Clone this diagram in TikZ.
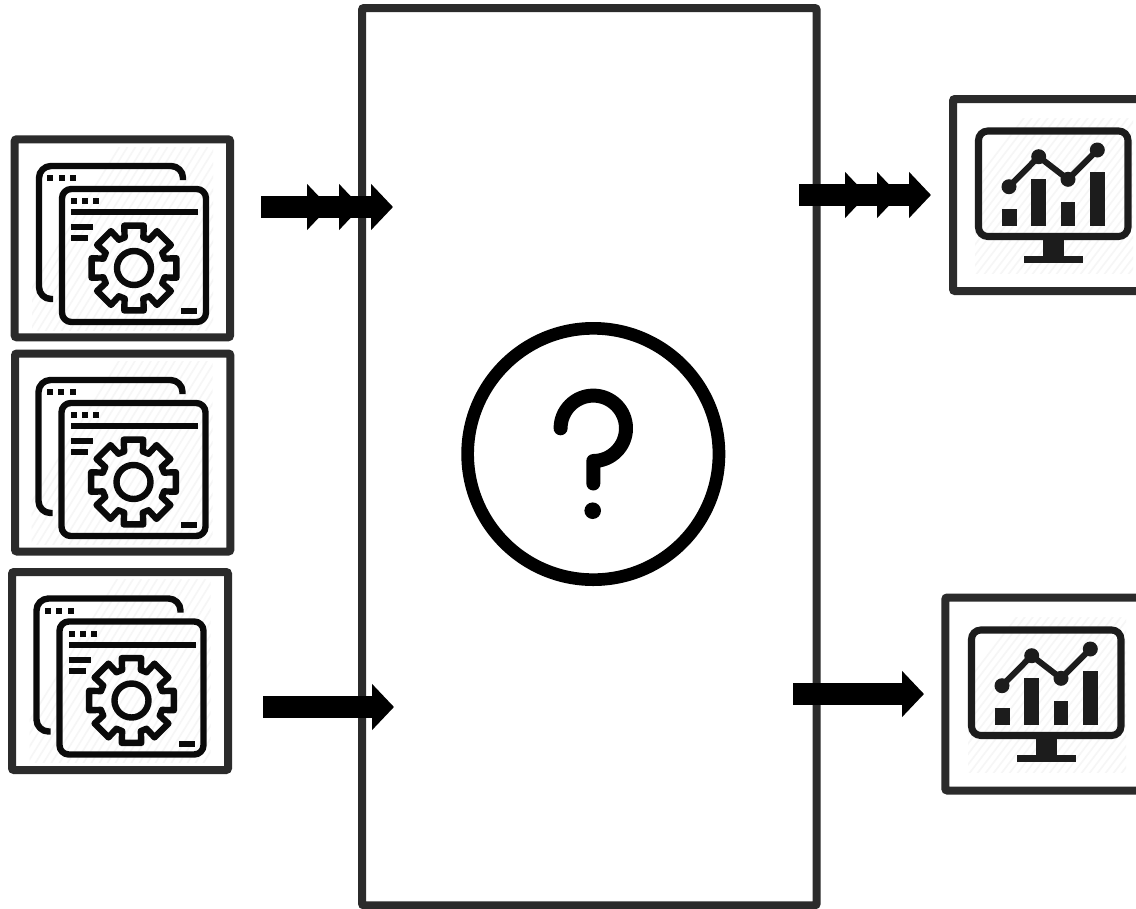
\documentclass[tikz,border=0pt]{standalone}
\usetikzlibrary{arrows.meta,positioning}
\definecolor{frame}{HTML}{2B2B2B}
\definecolor{ink}{HTML}{0A0A0A}
\definecolor{mon}{HTML}{1C1C1C}
\definecolor{hatch}{HTML}{F6F6F6}
\tikzset{
  x=0.75pt,y=-0.75pt,
  outerbox/.style={draw=frame,line width=6pt,rounded corners=1.5pt,inner sep=0pt,outer sep=0pt,fill=white,anchor=north west},
  iconline/.style={draw=ink,line width=4.8pt,line join=round},
  blockarrow/.style={line width=16.5pt,draw=black},
  hatchline/.style={draw=hatch,line width=1.2pt},
  head/.tip={Triangle[length=16.5pt,width=33.75pt,sep=7.5pt]},
  lasthead/.tip={Triangle[length=16.5pt,width=33.75pt]},
  gearicon/.pic={
    \begin{scope}
      \clip (32,147) rectangle (213,330);
      \foreach \h in {0,8,...,400}
        \draw[hatchline] (\h,340) -- (\h+130,130);
    \end{scope}
    \draw[iconline,rounded corners=9pt] (183,180) -- (183,166) -- (39,166) -- (39,299) -- (53,299);
    \draw[iconline,rounded corners=7pt] (62,189) rectangle (206,322);
    \foreach \q in {47,58.5,70} \fill[ink] (\q,175) rectangle (\q+6,181);
    \foreach \q in {71,82,93} \fill[ink] (\q,198) rectangle (\q+6,204);
    \fill[ink] (71,209) rectangle (198,215);
    \fill[ink] (71,224) rectangle (93,230);
    \fill[ink] (71,235) rectangle (88,241);
    \fill[ink] (181,308) rectangle (197,314);
    \draw[iconline] ([shift={(134,268)}]-17:32)
      \foreach \a in {0,45,...,315}{
        -- ([shift={(134,268)}]\a-17:32) -- ([shift={(134,268)}]\a-13:43.5)
        -- ([shift={(134,268)}]\a+13:43.5) -- ([shift={(134,268)}]\a+17:32)
      } -- cycle;
    \draw[iconline] (134,268) circle[radius=17];
  },
  monitoricon/.pic={
    \begin{scope}
      \clip (975,118) rectangle (1133,273);
      \foreach \h in {900,908,...,1300}
        \draw[hatchline] (\h,280) -- (\h+130,110);
    \end{scope}
    \draw[draw=mon,line width=5.3pt,rounded corners=7pt] (978.5,131) rectangle (1128,236.5);
    \fill[mon] (1042.7,238) rectangle (1064,256);
    \fill[mon] (1024,255.7) rectangle (1082.7,262.7);
    \fill[mon] (1002,209) rectangle (1016.7,226);
    \fill[mon] (1031.3,179.3) rectangle (1046,226);
    \fill[mon] (1060.7,201.7) rectangle (1075.3,226);
    \fill[mon] (1090,172) rectangle (1104.7,226);
    \draw[mon,line width=4.5pt] (1009,186.7) -- (1038.7,156.7) -- (1068,179.3) -- (1097.3,150);
    \foreach \p in {(1009,186.7),(1038.7,156.7),(1068,179.3),(1097.3,150)}
      \fill[mon] \p circle[radius=7.5];
  },
}
\begin{document}
\begin{tikzpicture}
\clip (0,0) rectangle (1136,908);
\fill[white] (0,0) rectangle (1136,908);

% central box
\node[outerbox,minimum width=341pt,minimum height=673pt] (engine) at (362,8) {};

% question mark
\node[draw=black,line width=9.5pt,circle,minimum size=188.5pt,inner sep=0pt,outer sep=0pt] (query) at (593.3,454) {};
\draw[black,line width=10.5pt,line cap=round,line join=round]
  (560.6,428.3) arc[start angle=180,end angle=450,radius=32.7] -- (593.3,483.5);
\fill[black] (592.7,510.7) circle[radius=8.3];

% input boxes
\node[outerbox,minimum width=161.5pt,minimum height=148.5pt] (srcA) at (14.7,139.3) {};
\node[outerbox,minimum width=161.5pt,minimum height=148.5pt] (srcB) at (15,353.5) {};
\node[outerbox,minimum width=162pt,minimum height=148.5pt] (srcC) at (12,572) {};
\pic at (0,0) {gearicon};
\pic at (-0.5,214) {gearicon};
\pic at (-2.5,432.5) {gearicon};

% output boxes
\node[outerbox,minimum width=150pt,minimum height=144pt] (outA) at (953,99) {};
\node[outerbox,minimum width=155pt,minimum height=144.75pt] (outB) at (945.3,597.5) {};
\pic at (0,0) {monitoricon};
\pic at (-7,499) {monitoricon};

% arrows
\coordinate (inAstart) at (261,207);
\coordinate (inAend) at (393,207);
\coordinate (inCstart) at (263,707);
\coordinate (inCend) at (394,707);
\coordinate (outAstart) at (799,195);
\coordinate (outAend) at (931,195);
\coordinate (outBstart) at (793,694);
\coordinate (outBend) at (924,694);
\draw[blockarrow,-{head[]head[]lasthead[]}] (inAstart) -- (inAend);
\draw[blockarrow,-{lasthead[]}] (inCstart) -- (inCend);
\draw[blockarrow,-{head[]head[]lasthead[]}] (outAstart) -- (outAend);
\draw[blockarrow,-{lasthead[]}] (outBstart) -- (outBend);
\end{tikzpicture}
\end{document}
